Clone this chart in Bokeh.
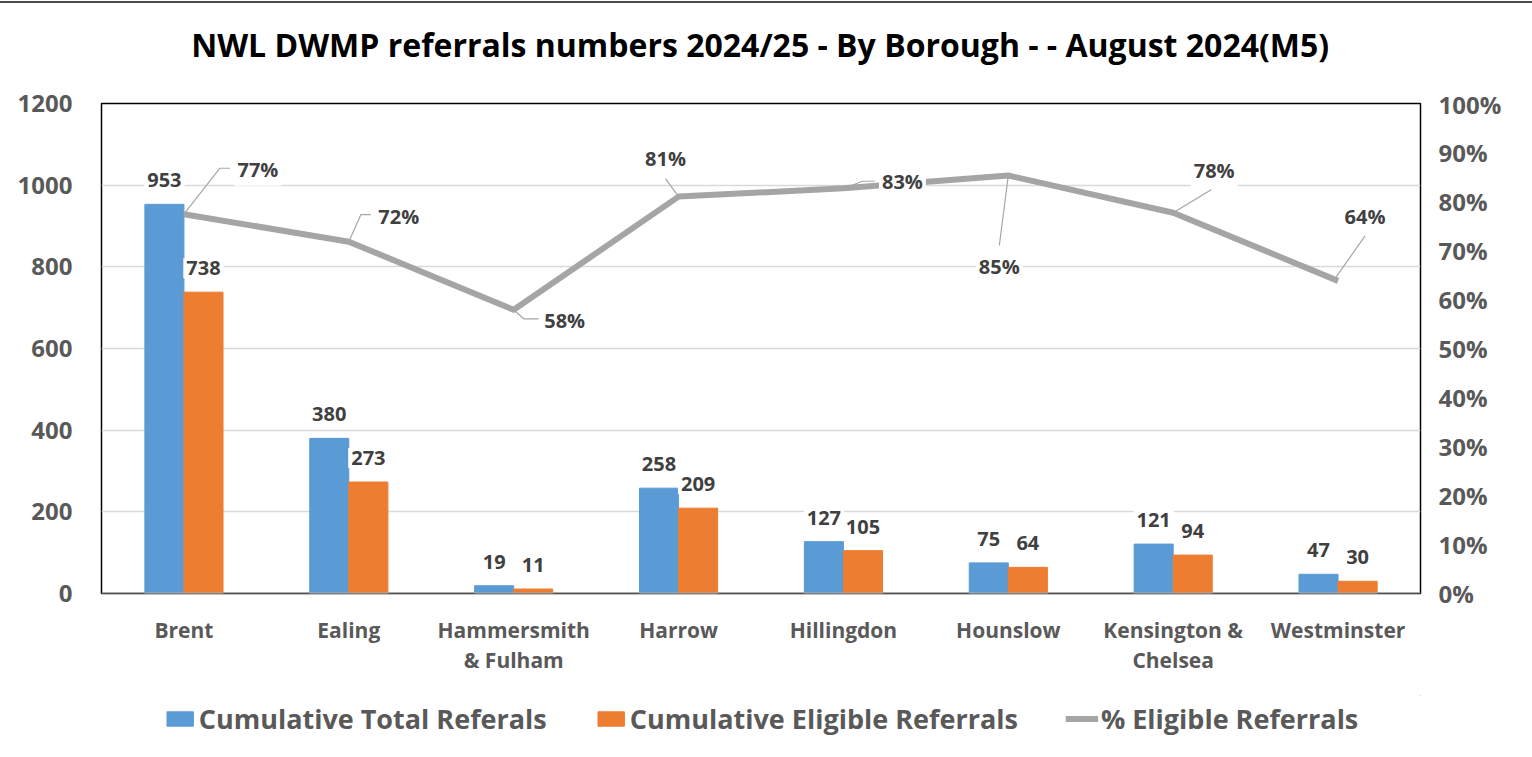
from bokeh.plotting import figure
from bokeh.layouts import column
from bokeh.models import (Range1d, LinearAxis, FixedTicker, NumeralTickFormatter,
                          Legend, LegendItem, ColumnDataSource, Span, Div)
from bokeh.core.properties import value
from bokeh.embed import file_html
from bokeh.resources import INLINE

# ---------------- data ----------------
title_text = "NWL DWMP referrals numbers 2024/25 - By Borough - - August 2024(M5)"
boroughs = ["Brent", "Ealing", "Hammersmith\n& Fulham", "Harrow", "Hillingdon",
            "Hounslow", "Kensington &\nChelsea", "Westminster"]
total_referrals = [953, 380, 19, 258, 127, 75, 121, 47]
eligible_referrals = [738, 273, 11, 209, 105, 64, 94, 30]
pct_eligible = [0.774, 0.718, 0.579, 0.810, 0.827, 0.853, 0.777, 0.638]
left_ticks = [0, 200, 400, 600, 800, 1000, 1200]
right_ticks = [0, 0.1, 0.2, 0.3, 0.4, 0.5, 0.6, 0.7, 0.8, 0.9, 1.0]
series_names = ["Cumulative Total Referals", "Cumulative Eligible Referrals",
                "% Eligible Referrals"]

# ---------------- label placement (pixels, up = positive) ----------------
pct_label_dx = [74, 50, 51, -13, 59, -9, 41, 27]
pct_label_dy = [45, 25, -11, 38, 7, -91, 42, 64]
leader_px = [
    [(0, 0), (36, 46), (46, 46)],
    [(0, 0), (12, 27), (22, 27)],
    [(0, 0), (10, -9), (25, -9)],
    [(0, 0), (-13, 18)],
    [(6, 2), (19, 7), (31, 7)],
    [(0, 0), (-9, -70)],
    [(0, 0), (38, 23)],
    [(-4, 1), (27, 45)],
]

W = 1532
RULE_TOP, RULE_H = 1, 2
TOP_H = 87 - RULE_TOP - RULE_H   # strip holding the title
FL, FR = 101, 1420               # frame left/right (page px)
FRAME_H = 490
MAIN_TOP = 16
MAIN_BOTTOM = 102
LEG_H = 46
PX = (FR - FL) / len(boroughs)
PY = FRAME_H

FONT = "Open Sans"
TICK_COLOR = "#595959"
LABEL_COLOR = "#404040"
BLUE, ORANGE, GREY = "#5B9BD5", "#ED7D31", "#A5A5A5"

centers = [i + 0.5 for i in range(len(boroughs))]

# ---------------- top rule ----------------
rule = Div(text="", width=W, height=RULE_H, margin=(RULE_TOP, 0, 0, 0),
           styles={"background-color": "#4D4D4D"})

# ---------------- title strip ----------------
top = figure(width=W, height=TOP_H, output_backend="svg", toolbar_location=None,
             x_range=Range1d(0, W), y_range=Range1d(0, TOP_H),
             min_border=0, outline_line_color=None,
             background_fill_color="white", border_fill_color="white")
top.axis.visible = False
top.grid.visible = False
top.text(x=[765], y=[TOP_H - 41], text=[title_text], text_font=value(FONT),
         text_font_size="32px", text_font_style="bold", text_color="#000000",
         text_align="center", text_baseline="middle")

# ---------------- main chart ----------------
p = figure(frame_width=FR - FL, frame_height=FRAME_H,
           output_backend="svg", toolbar_location=None,
           x_range=Range1d(0, len(boroughs)), y_range=Range1d(0, 1200),
           min_border_left=FL, min_border_right=W - FR,
           min_border_top=MAIN_TOP, min_border_bottom=MAIN_BOTTOM,
           background_fill_color="white", border_fill_color="white")
p.extra_y_ranges = {"pct": Range1d(0, 1)}

p.outline_line_color = "#000000"
p.outline_line_width = 1.5

p.xgrid.visible = False
p.ygrid.ticker = FixedTicker(ticks=left_ticks)
p.ygrid.grid_line_color = "#D9D9D9"
p.ygrid.grid_line_width = 1.5

p.yaxis.ticker = FixedTicker(ticks=left_ticks)
for ax in [p.yaxis[0]]:
    ax.major_label_text_font = FONT
    ax.major_label_text_font_size = "24px"
    ax.major_label_text_font_style = "bold"
    ax.major_label_text_color = TICK_COLOR
    ax.axis_line_color = None
    ax.major_tick_line_color = None
    ax.minor_tick_line_color = None
    ax.major_label_standoff = 23

raxis = LinearAxis(y_range_name="pct", ticker=FixedTicker(ticks=right_ticks),
                   formatter=NumeralTickFormatter(format="0%"))
raxis.major_label_text_font = FONT
raxis.major_label_text_font_size = "24px"
raxis.major_label_text_font_style = "bold"
raxis.major_label_text_color = TICK_COLOR
raxis.axis_line_color = None
raxis.major_tick_line_color = None
raxis.minor_tick_line_color = None
raxis.major_label_standoff = 12
p.add_layout(raxis, "right")

p.xaxis.ticker = FixedTicker(ticks=centers)
p.xaxis.major_label_overrides = {c: b for c, b in zip(centers, boroughs)}
p.xaxis.major_label_text_font = FONT
p.xaxis.major_label_text_font_size = "21px"
p.xaxis.major_label_text_font_style = "bold"
p.xaxis.major_label_text_color = TICK_COLOR
p.xaxis.major_label_text_line_height = 1.1
p.xaxis.axis_line_color = None
p.xaxis.major_tick_line_color = None
p.xaxis.minor_tick_line_color = None
p.xaxis.major_label_standoff = 16

bw = 0.237
src = ColumnDataSource(dict(
    xb=[c - bw / 2 for c in centers], xo=[c + bw / 2 for c in centers],
    tot=total_referrals, eli=eligible_referrals,
    tot_lab=[str(v) for v in total_referrals],
    eli_lab=[str(v) for v in eligible_referrals],
    xc=centers, pct=pct_eligible,
    pct_lab=[f"{round(v * 100)}%" for v in pct_eligible],
    pdx=pct_label_dx, pdy=[-d for d in pct_label_dy],
))
p.vbar(x="xb", top="tot", width=bw, bottom=0, source=src,
       fill_color=BLUE, line_color=BLUE)
p.vbar(x="xo", top="eli", width=bw, bottom=0, source=src,
       fill_color=ORANGE, line_color=ORANGE)

p.add_layout(Span(location=0, dimension="width", line_color="#A6A6A6", line_width=2.5))

common = dict(text_font=value(FONT), text_font_size="20px", text_font_style="bold",
              text_color=LABEL_COLOR, text_align="center", text_baseline="middle",
              background_fill_color="white", padding=3)
p.text(x="xb", y="tot", text="tot_lab", y_offset=-24, source=src, **common)
p.text(x="xo", y="eli", text="eli_lab", y_offset=-24, source=src, **common)

p.line(x="xc", y="pct", y_range_name="pct", source=src,
       line_color=GREY, line_width=6, line_join="round")

lxs, lys = [], []
for c, v, pts in zip(centers, pct_eligible, leader_px):
    lxs.append([c + dx / PX for dx, dy in pts])
    lys.append([v + dy / PY for dx, dy in pts])
p.multi_line(xs=lxs, ys=lys, y_range_name="pct", line_color="#A6A6A6", line_width=1.2)

p.text(x="xc", y="pct", text="pct_lab", x_offset="pdx", y_offset="pdy",
       y_range_name="pct", source=src, **common)

# ---------------- legend strip ----------------
lg = figure(width=W, height=LEG_H, output_backend="svg", toolbar_location=None,
            x_range=Range1d(0, 1), y_range=Range1d(0, 1),
            min_border=0, outline_line_color=None,
            background_fill_color="white", border_fill_color="white")
lg.axis.visible = False
lg.grid.visible = False
r1 = lg.vbar(x=[5], top=[5], bottom=[4], width=0.1, fill_color=BLUE, line_color=BLUE)
r2 = lg.vbar(x=[5], top=[5], bottom=[4], width=0.1, fill_color=ORANGE, line_color=ORANGE)
r3 = lg.line(x=[5, 6], y=[5, 5], line_color=GREY, line_width=6)
legend = Legend(items=[LegendItem(label=n, renderers=[r])
                       for n, r in zip(series_names, [r1, r2, r3])],
                orientation="horizontal", location="center")
legend.label_text_font = FONT
legend.label_text_font_size = "27px"
legend.label_text_font_style = "bold"
legend.label_text_color = TICK_COLOR
legend.glyph_width = 33
legend.glyph_height = 18
legend.label_standoff = 3
legend.spacing = 47
legend.border_line_color = None
legend.background_fill_alpha = 0
legend.margin = 0
legend.padding = 4
lg.add_layout(legend, "center")

layout = column(rule, top, p, lg, spacing=0)
open("out.html", "w").write(file_html(layout, INLINE))
